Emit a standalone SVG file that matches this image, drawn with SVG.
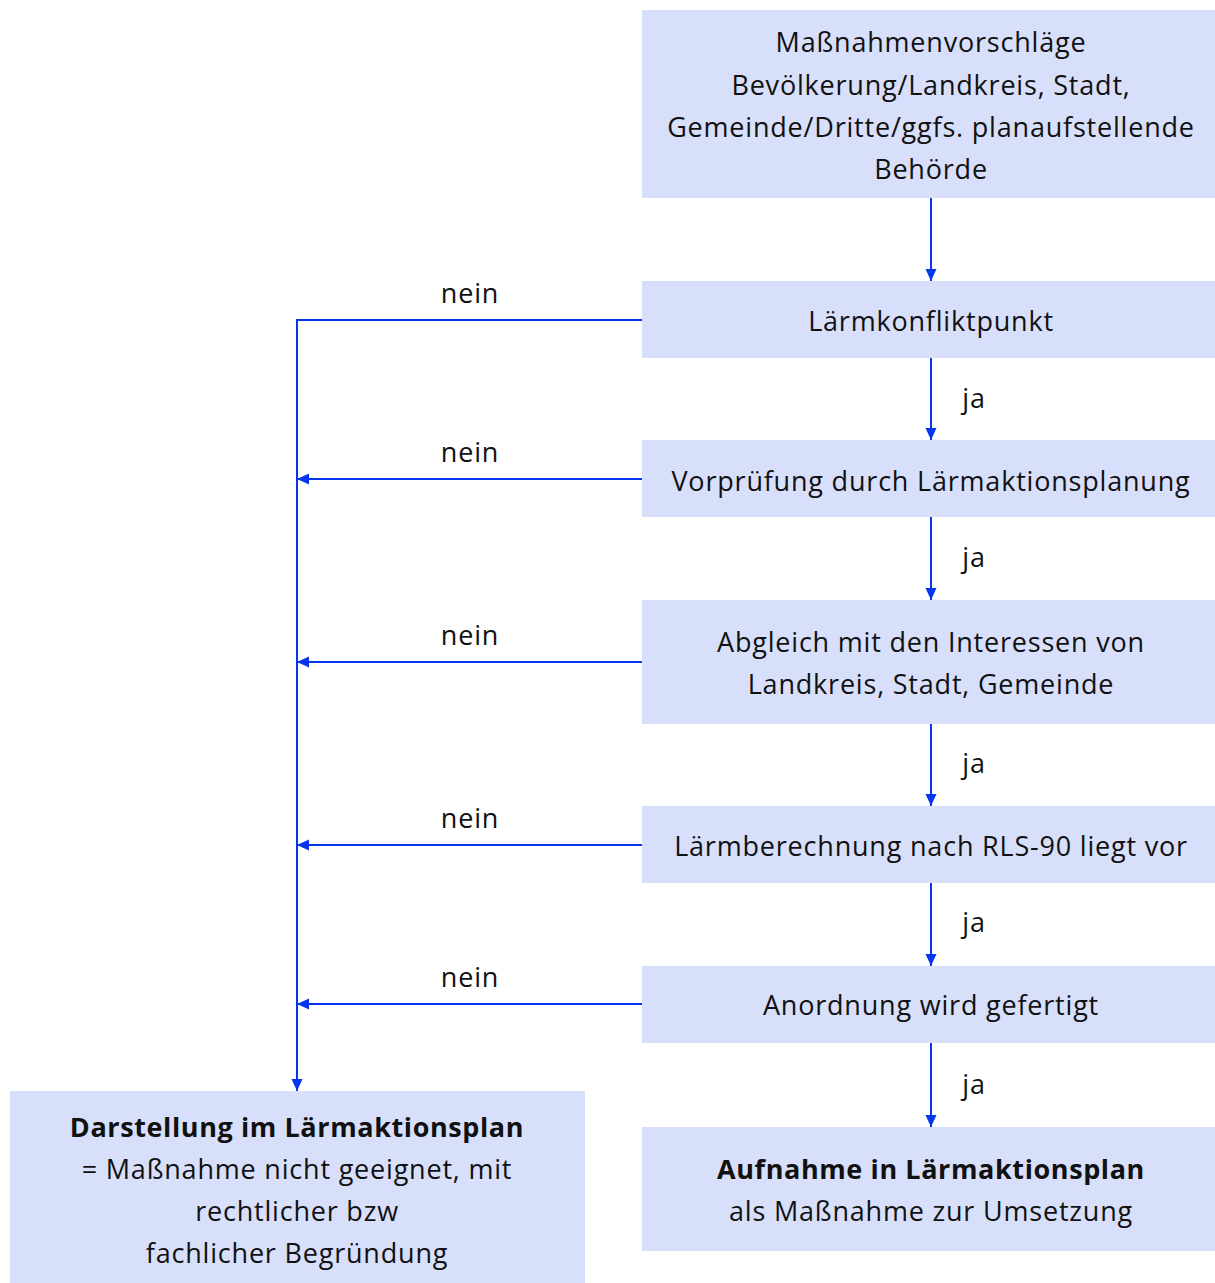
<svg xmlns="http://www.w3.org/2000/svg" width="1215" height="1283" viewBox="0 0 1215 1283">
<style>
.box{fill:#d8dffa}
.t{font-family:"Open Sans","Noto Sans",sans-serif;font-size:27px;letter-spacing:0.8px;fill:#111;text-anchor:middle;dominant-baseline:central}
.b{font-weight:bold;letter-spacing:0.6px}
.ln{stroke:#0536ee;stroke-width:2;fill:none}
</style>
<defs>
<marker id="ah" markerWidth="13" markerHeight="13" refX="12" refY="6.5" orient="auto" markerUnits="userSpaceOnUse">
<path d="M0,1 L12,6.5 L0,12 Z" fill="#0536ee"/>
</marker>
</defs>
<rect width="1215" height="1283" fill="#fff"/>
<g id="connectors">
<line class="ln" x1="931" y1="198" x2="931" y2="281" marker-end="url(#ah)"/>
<line class="ln" x1="931" y1="358" x2="931" y2="440" marker-end="url(#ah)"/>
<line class="ln" x1="931" y1="517" x2="931" y2="600" marker-end="url(#ah)"/>
<line class="ln" x1="931" y1="724" x2="931" y2="806" marker-end="url(#ah)"/>
<line class="ln" x1="931" y1="883" x2="931" y2="966" marker-end="url(#ah)"/>
<line class="ln" x1="931" y1="1043" x2="931" y2="1127" marker-end="url(#ah)"/>
<polyline class="ln" points="642,320 297,320 297,1091" marker-end="url(#ah)"/>
<line class="ln" x1="642" y1="479" x2="297" y2="479" marker-end="url(#ah)"/>
<line class="ln" x1="642" y1="662" x2="297" y2="662" marker-end="url(#ah)"/>
<line class="ln" x1="642" y1="845" x2="297" y2="845" marker-end="url(#ah)"/>
<line class="ln" x1="642" y1="1004" x2="297" y2="1004" marker-end="url(#ah)"/>
<text class="t" x="470" y="292">nein</text>
<text class="t" x="470" y="451">nein</text>
<text class="t" x="470" y="634">nein</text>
<text class="t" x="470" y="817">nein</text>
<text class="t" x="470" y="976">nein</text>
<text class="t" x="974" y="397">ja</text>
<text class="t" x="974" y="556">ja</text>
<text class="t" x="974" y="762">ja</text>
<text class="t" x="974" y="921">ja</text>
<text class="t" x="974" y="1083">ja</text>
</g>
<g id="n1">
<rect class="box" x="642" y="10" width="573" height="188"/>
<text class="t" x="931" y="41">Maßnahmenvorschläge</text>
<text class="t" x="931" y="84">Bevölkerung/Landkreis, Stadt,</text>
<text class="t" x="931" y="126">Gemeinde/Dritte/ggfs. planaufstellende</text>
<text class="t" x="931" y="168">Behörde</text>
</g>
<g id="n2">
<rect class="box" x="642" y="281" width="573" height="77"/>
<text class="t" x="931" y="320">Lärmkonfliktpunkt</text>
</g>
<g id="n3">
<rect class="box" x="642" y="440" width="573" height="77"/>
<text class="t" x="931" y="480">Vorprüfung durch Lärmaktionsplanung</text>
</g>
<g id="n4">
<rect class="box" x="642" y="600" width="573" height="124"/>
<text class="t" x="931" y="641">Abgleich mit den Interessen von</text>
<text class="t" x="931" y="683">Landkreis, Stadt, Gemeinde</text>
</g>
<g id="n5">
<rect class="box" x="642" y="806" width="573" height="77"/>
<text class="t" x="931" y="845">Lärmberechnung nach RLS-90 liegt vor</text>
</g>
<g id="n6">
<rect class="box" x="642" y="966" width="573" height="77"/>
<text class="t" x="931" y="1004">Anordnung wird gefertigt</text>
</g>
<g id="n7">
<rect class="box" x="642" y="1127" width="573" height="124"/>
<text class="t b" x="931" y="1168">Aufnahme in Lärmaktionsplan</text>
<text class="t" x="931" y="1210">als Maßnahme zur Umsetzung</text>
</g>
<g id="n8">
<rect class="box" x="10" y="1091" width="575" height="192"/>
<text class="t b" x="297" y="1126">Darstellung im Lärmaktionsplan</text>
<text class="t" x="297" y="1168">= Maßnahme nicht geeignet, mit</text>
<text class="t" x="297" y="1210">rechtlicher bzw</text>
<text class="t" x="297" y="1252">fachlicher Begründung</text>
</g>
</svg>
